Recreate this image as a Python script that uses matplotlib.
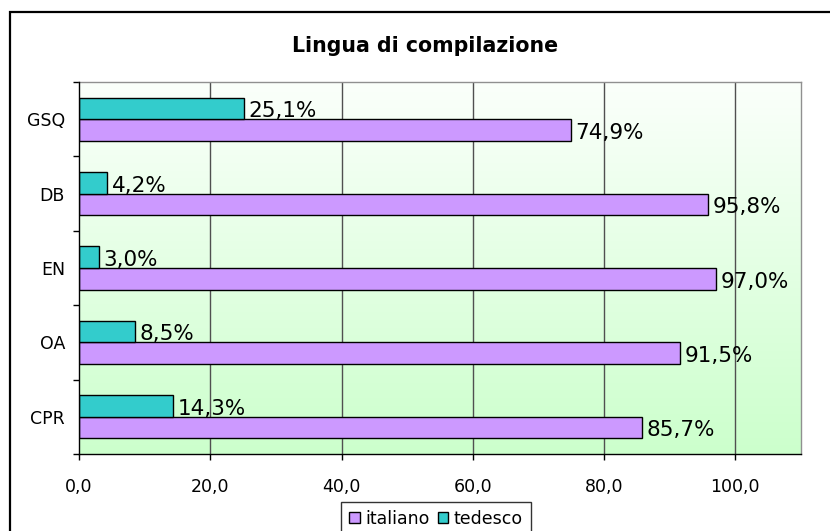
import matplotlib
matplotlib.use("Agg")
import matplotlib.pyplot as plt
import numpy as np
from matplotlib.patches import Patch, Rectangle
from matplotlib.ticker import FuncFormatter, FixedLocator

categories = ["CPR", "OA", "EN", "DB", "GSQ"]
italiano = [85.7, 91.5, 97.0, 95.8, 74.9]
tedesco = [14.3, 8.5, 3.0, 4.2, 25.1]
xticks = [0, 20, 40, 60, 80, 100]
title = "Lingua di compilazione"

c_ita = "#CC99FF"
c_ted = "#33CCCC"

W, H = 830, 531
fig = plt.figure(figsize=(W / 100, H / 100), dpi=100)
fig.patch.set_facecolor("white")

# outer frame (extends beyond the image on right/bottom)
fig.patches.append(Rectangle((10 / W, -0.1), 1.2, 1 - 12 / H + 0.1, transform=fig.transFigure,
                             fill=False, edgecolor="black", linewidth=1.6, zorder=0))

L, R, T, B = 79, 801, 82, 454
ax = fig.add_axes([L / W, 1 - B / H, (R - L) / W, (B - T) / H])

# gradient background
grad = np.linspace(0, 1, 256).reshape(-1, 1)
top = np.array([0.985, 1.0, 0.985])
bot = np.array([0.80, 1.0, 0.80])
img = top[None, None, :] * (1 - grad[..., None]) + bot[None, None, :] * grad[..., None]
ax.imshow(img, extent=[0, 110, -0.5, 4.5], aspect="auto", origin="upper", zorder=0)

y = np.arange(len(categories))
h = 0.29
ax.barh(y - h / 2, italiano, height=h, color=c_ita, edgecolor="black", linewidth=1, zorder=3, label="italiano")
ax.barh(y + h / 2, tedesco, height=h, color=c_ted, edgecolor="black", linewidth=1, zorder=3, label="tedesco")

def fmt(v):
    return f"{v:.1f}".replace(".", ",") + "%"

for i, (vi, vt) in enumerate(zip(italiano, tedesco)):
    ax.annotate(fmt(vi), (vi, y[i] - h), xytext=(5, 2), textcoords="offset pixels",
                ha="left", va="baseline", fontsize=15.5, zorder=4)
    ax.annotate(fmt(vt), (vt, y[i]), xytext=(5, 2), textcoords="offset pixels",
                ha="left", va="baseline", fontsize=15.5, zorder=4)

ax.set_xlim(0, 110)
ax.set_ylim(-0.5, 4.5)
ax.set_xticks(xticks)
ax.xaxis.set_major_formatter(FuncFormatter(lambda v, p: f"{v:.1f}".replace(".", ",")))
ax.set_yticks(y)
ax.set_yticklabels(categories)
ax.yaxis.set_minor_locator(FixedLocator(np.arange(-0.5, 5, 1)))
ax.tick_params(axis="y", which="major", length=0, pad=10, labelsize=12.5)
ax.tick_params(axis="y", which="minor", length=4.3, width=1, color="black", direction="out")
ax.tick_params(axis="x", which="major", length=4.3, width=1, color="black", direction="out", pad=13, labelsize=12.5)

for xv in xticks[1:]:
    ax.axvline(xv, color="#505050", linewidth=1, zorder=1)

for s in ["top", "right"]:
    ax.spines[s].set_color("#909090")
    ax.spines[s].set_linewidth(1)
for s in ["left", "bottom"]:
    ax.spines[s].set_color("black")
    ax.spines[s].set_linewidth(1)
    ax.spines[s].set_zorder(5)

fig.text(0.5 + 10 / W, 1 - 51.5 / H, title, ha="center", va="baseline", fontsize=14.8, fontweight="bold")

handles = [Patch(facecolor=c_ita, edgecolor="black", linewidth=1, label="italiano"),
           Patch(facecolor=c_ted, edgecolor="black", linewidth=1, label="tedesco")]
leg = fig.legend(handles=handles, loc="upper center", bbox_to_anchor=(436 / W, 1 - 502 / H),
                 ncol=2, frameon=True, fancybox=False, edgecolor="black", fontsize=12.5,
                 handlelength=0.6, handleheight=0.6, handletextpad=0.3, columnspacing=0.5,
                 borderpad=0.45, borderaxespad=0)
leg.get_frame().set_linewidth(1)

fig.savefig("out.png", dpi=100)
